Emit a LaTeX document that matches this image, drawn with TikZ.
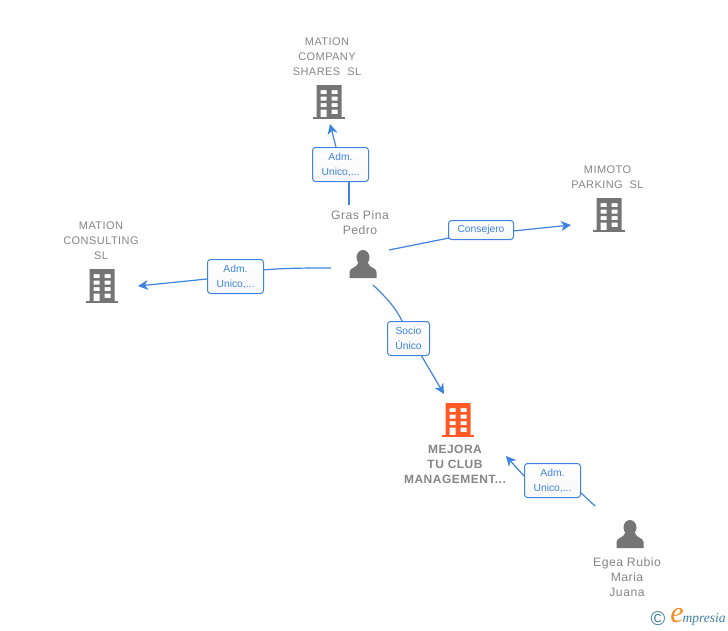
\documentclass[tikz,border=0pt]{standalone}
\usepackage{fontspec}
\setmainfont{Liberation Sans}
\newfontfamily\spaced[LetterSpace=4]{Liberation Sans}
\newfontfamily\logofont{Liberation Serif}
\usetikzlibrary{arrows.meta}
\definecolor{linkblue}{HTML}{3F83E0}
\definecolor{labelgray}{HTML}{858585}
\definecolor{icongray}{HTML}{757575}
\definecolor{iconorange}{HTML}{FF5A26}
\definecolor{logoteal}{HTML}{3E7F9C}
\definecolor{logoorange}{HTML}{F58A1F}
\tikzset{
  x=1pt,y=-1pt,
  entity/.style={text=labelgray,align=center,font=\spaced\fontsize{11}{15}\selectfont,inner sep=0pt},
  personname/.style={entity,font=\spaced\fontsize{12.2}{15}\selectfont},
  mainentity/.style={entity,font=\spaced\bfseries\fontsize{12}{15}\selectfont},
  tag/.style={draw=linkblue,line width=1pt,rounded corners=3pt,top color=white,bottom color=black!3,
    text=linkblue,align=center,font=\fontsize{10.3}{15}\selectfont,inner sep=0pt,anchor=north west},
  link/.style={draw=linkblue,line width=1.2pt},
  arrowlink/.style={link,-{Stealth[length=10pt,width=10pt,inset=3pt]}},
  pics/building/.style={code={
    \fill[#1] (-16,17) rectangle (16,14.5);
    \fill[#1,even odd rule] (-12.5,-17) rectangle (12.5,15)
      (-8.5,-12) rectangle (-2.5,-8) (2.5,-12) rectangle (8.5,-8)
      (-8.5,-5.5) rectangle (-2.5,-1.5) (2.5,-5.5) rectangle (8.5,-1.5)
      (-8.5,1) rectangle (-2.5,5) (2.5,1) rectangle (8.5,5)
      (-8.5,7.5) rectangle (-2.5,15) (2.5,7.5) rectangle (8.5,12);
  }},
  pics/person/.style={code={
    \fill[icongray] (0,-6.5) ellipse (6.5 and 7.5);
    \fill[icongray] (-13.5,14) -- (-13.5,8) .. controls (-13.5,3.5) and (-6,4) .. (-5,-1)
      -- (5,-1) .. controls (6,4) and (13.5,3.5) .. (13.5,8) -- (13.5,14) -- cycle;
  }}
}
\begin{document}
\begin{tikzpicture}
\useasboundingbox (0,0) rectangle (728,630);
% entities
\node[entity] (company) at (327,57) {MATION\\COMPANY\\SHARES\ \ SL};
\pic at (329,102) {building=icongray};
\node[entity] (parking) at (607.5,177) {MIMOTO\\PARKING\ \ SL};
\pic at (609,215) {building=icongray};
\node[entity] (consulting) at (101,240.5) {MATION\\CONSULTING\\SL};
\pic at (102,286) {building=icongray};
\node[mainentity] (mejora) at (455,464) {MEJORA\\TU CLUB\\MANAGEMENT...};
\pic at (458,420) {building=iconorange};
\node[personname] (gras) at (360,223) {Gras Pina\\Pedro};
\pic at (363,264) {person};
\node[personname] (egea) at (627,577) {Egea Rubio\\Maria\\Juana};
\pic at (630,534) {person};
% label boxes
\node[tag,minimum width=56pt,minimum height=34pt] (t1) at (312,147) {Adm.\\Unico,...};
\node[tag,minimum width=56pt,minimum height=34pt] (t2) at (207,259) {Adm.\\Unico,...};
\node[tag,minimum width=65pt,minimum height=19pt] (t3) at (448,220) {Consejero};
\node[tag,minimum width=42pt,minimum height=34pt] (t4) at (387,321) {Socio\\Único};
\node[tag,minimum width=56pt,minimum height=34pt] (t5) at (524,463) {Adm.\\Unico,...};
% free ends
\coordinate (s1) at (349,205); \coordinate (a1) at (349,181); \coordinate (b1) at (336,147); \coordinate (e1) at (330,124);
\coordinate (s2) at (331,268); \coordinate (a2) at (263,270); \coordinate (b2) at (207,279); \coordinate (e2) at (138,286);
\coordinate (s3) at (389,250); \coordinate (a3) at (449,238); \coordinate (b3) at (513,231); \coordinate (e3) at (571,225);
\coordinate (s4) at (373,285); \coordinate (a4) at (402,321); \coordinate (b4) at (421,355); \coordinate (e4) at (444,394);
\coordinate (s5) at (595,506); \coordinate (a5) at (580,492); \coordinate (b5) at (524,476); \coordinate (e5) at (506,456);
% connectors
\draw[link] (s1) -- (a1);
\draw[arrowlink] (b1) -- (e1);
\draw[link] (s2) .. controls (305,268) and (285,268) .. (a2);
\draw[arrowlink] (b2) -- (e2);
\draw[link] (s3) -- (a3);
\draw[arrowlink] (b3) -- (e3);
\draw[link] (s4) .. controls (388,299) and (397,310) .. (a4);
\draw[arrowlink] (b4) -- (e4);
\draw[link] (s5) -- (a5);
\draw[arrowlink] (b5) -- (e5);
% logo
\node[text=logoteal,font=\fontsize{20}{20}\selectfont,inner sep=0pt] (copy) at (658,619) {©};
\node[text=logoorange,font=\logofont\itshape\fontsize{30}{30}\selectfont,inner sep=0pt] (logoe) at (677,616) {e};
\node[text=logoteal,font=\logofont\itshape\fontsize{13.5}{13.5}\selectfont,inner sep=0pt] (logot) at (704,619) {mpresia};
\end{tikzpicture}
\end{document}
